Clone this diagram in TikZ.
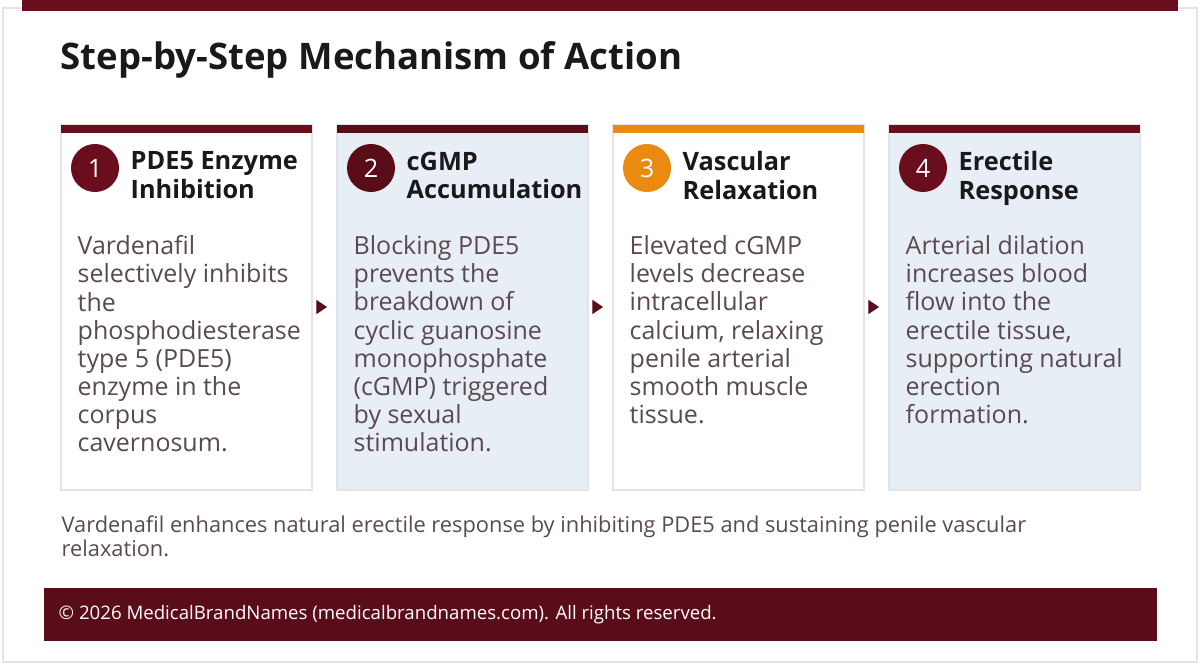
\documentclass[tikz,border=0pt]{standalone}
\usepackage{fontspec}
\setmainfont{Open Sans}
\usepackage{xcolor}
\usetikzlibrary{arrows.meta}
\definecolor{wine}{HTML}{6A0D1C}
\definecolor{darkwine}{HTML}{5A0C18}
\definecolor{amber}{HTML}{EA8A10}
\definecolor{bodygray}{HTML}{5A4A50}
\definecolor{paleblue}{HTML}{E8EEF5}
\definecolor{frame}{HTML}{E2E4E6}

\tikzset{
    card/.style={draw=frame, line width=0.4pt},
    badge/.style={circle, minimum size=0.48cm, inner sep=0pt, text=white, font=\fontsize{7.2}{8}\selectfont},
    steptitle/.style={anchor=north west, align=left, inner sep=0pt, font=\bfseries\fontsize{7.2}{8.1}\selectfont, text=black!90},
    stepbody/.style={anchor=north west, align=left, inner sep=0pt, font=\fontsize{7.1}{8}\selectfont, text=bodygray},
    flow/.style={-{Triangle[length=3pt,width=4pt]}, darkwine, line width=0.2pt}
}

\begin{document}
\begin{tikzpicture}[x=0.01cm, y=-0.01cm]
    \useasboundingbox (0,0) rectangle (1200,664);
    % Rahmen und Kopfleiste
    \draw[frame, line width=0.6pt] (3,8) rectangle (1197,662);
    \fill[wine] (22,0) rectangle (1178,11);
    \node[anchor=base west, inner sep=0pt, font=\bfseries\fontsize{10.4}{13}\selectfont, text=black!90] (title) at (60,70) {Step-by-Step Mechanism of Action};

    % Karten
    \foreach \i/\fillc/\barc/\num/\head/\txt in {
        1/white/wine/1/{PDE5 Enzyme\\Inhibition}/{Vardenafil\\selectively inhibits\\the\\phosphodiesterase\\type 5 (PDE5)\\enzyme in the\\corpus\\cavernosum.},
        2/paleblue/darkwine/2/{cGMP\\Accumulation}/{Blocking PDE5\\prevents the\\breakdown of\\cyclic guanosine\\monophosphate\\(cGMP) triggered\\by sexual\\stimulation.},
        3/white/amber/3/{Vascular\\Relaxation}/{Elevated cGMP\\levels decrease\\intracellular\\calcium, relaxing\\penile arterial\\smooth muscle\\tissue.},
        4/paleblue/wine/4/{Erectile\\Response}/{Arterial dilation\\increases blood\\flow into the\\erectile tissue,\\supporting natural\\erection\\formation.}} {
        \pgfmathsetmacro{\xl}{61+276*(\i-1)}
        \filldraw[card, fill=\fillc] (\xl,125) rectangle ++(251,365);
        \fill[\barc] (\xl,125) rectangle ++(251,8);
        \node[badge, fill=\barc] (badge\i) at (\xl+34,168) {\num};
        \node[steptitle] (head\i) at (\xl+69,151) {\head};
        \node[stepbody] (body\i) at (\xl+16,235) {\txt};
    }
    \foreach \i in {1,2,3} {
        \pgfmathsetmacro{\xa}{317+276*(\i-1)}
        \coordinate (s\i) at (\xa,307);
        \draw[flow] (s\i) -- ++(10,0);
    }

    % Hinweis und Fusszeile
    \node[anchor=north west, inner sep=0pt, align=left, font=\fontsize{6.2}{6.8}\selectfont, text=bodygray] (note) at (61,515) {Vardenafil enhances natural erectile response by inhibiting PDE5 and sustaining penile vascular\\relaxation.};
    \fill[darkwine] (44,588) rectangle (1157,641);
    \node[anchor=west, inner sep=0pt, font=\fontsize{5.3}{6.5}\selectfont, text=white] (copy) at (58,615) {© 2026 MedicalBrandNames (medicalbrandnames.com). All rights reserved.};
\end{tikzpicture}
\end{document}
